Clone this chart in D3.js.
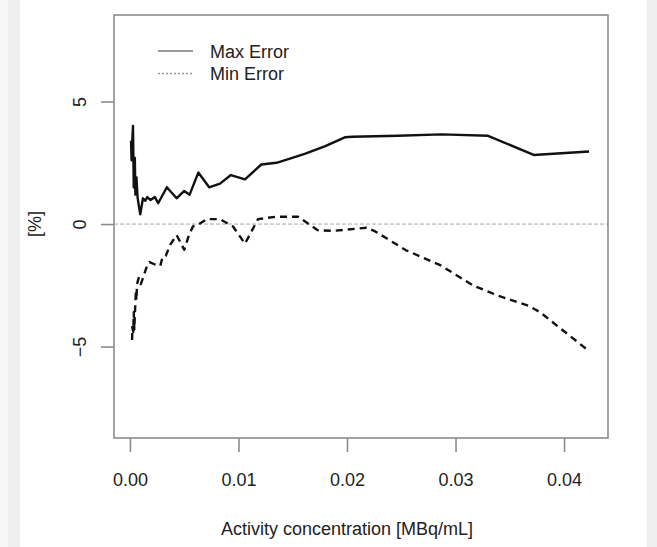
<!DOCTYPE html>
<html>
<head>
<meta charset="utf-8">
<script src="https://cdn.jsdelivr.net/npm/d3@7"></script>
<style>
  body { margin: 0; background: #fff; }
  svg text { font-family: "Liberation Sans", Arial, sans-serif; fill: #222; }
</style>
</head>
<body>
<div id="chart"></div>
<script>
// activity concentration [MBq/mL] and error [%]
const maxX = [0.0001, 0.00015, 0.0002, 0.00028, 0.00035, 0.00045, 0.0005, 0.0006, 0.0007, 0.0008,
  0.00095, 0.0012, 0.0014, 0.0016, 0.0019, 0.0023, 0.0026, 0.0034, 0.0043, 0.005,
  0.0055, 0.0063, 0.0073, 0.0083, 0.0093, 0.0106, 0.0121, 0.0135, 0.0146, 0.0161,
  0.018, 0.0198, 0.0205, 0.0247, 0.0287, 0.0295, 0.033, 0.0372, 0.0423];
const maxErr = [3.4, 2.6, 3.3, 4.0, 1.5, 2.7, 1.2, 1.9, 1.1, 0.8,
  0.4, 1.05, 0.95, 1.1, 0.98, 1.1, 0.85, 1.5, 1.05, 1.35,
  1.2, 2.1, 1.5, 1.65, 2.0, 1.82, 2.43, 2.5, 2.65, 2.86,
  3.18, 3.54, 3.56, 3.6, 3.66, 3.65, 3.6, 2.82, 2.96];

const minX = [0.0002, 0.00022, 0.0003, 0.00035, 0.0004, 0.0005, 0.00055, 0.0006, 0.00065, 0.0008,
  0.001, 0.0012, 0.0015, 0.0018, 0.0023, 0.0028, 0.003, 0.0033, 0.0037, 0.004,
  0.0043, 0.0046, 0.005, 0.0054, 0.0058, 0.0063, 0.0071, 0.0083, 0.0095, 0.0106,
  0.0118, 0.0135, 0.0155, 0.0173, 0.0187, 0.0218, 0.0226, 0.0254, 0.0286, 0.0316,
  0.0338, 0.0368, 0.0378, 0.0422];
const minErr = [-4.73, -4.2, -4.4, -3.6, -4.3, -3.2, -2.7, -3.1, -2.45, -2.2,
  -2.45, -2.2, -1.8, -1.55, -1.65, -1.7, -1.35, -1.3, -0.85, -0.65,
  -0.45, -0.7, -1.05, -0.5, -0.1, -0.02, 0.2, 0.2, -0.1, -0.8,
  0.2, 0.3, 0.3, -0.25, -0.28, -0.15, -0.3, -1.06, -1.68, -2.5,
  -2.9, -3.35, -3.6, -5.15];

const xTicks = [0, 0.01, 0.02, 0.03, 0.04];
const yTicks = [-5, 0, 5];
const legendLabels = ["Max Error", "Min Error"];

const width = 657, height = 547;
const box = {left: 114, right: 608, top: 15, bottom: 438};

const svg = d3.select("#chart").append("svg")
  .attr("width", width)
  .attr("height", height);

// grey strips at the page edges
svg.append("rect").attr("x", 0).attr("y", 0).attr("width", 8).attr("height", height).attr("fill", "#f7f7f7");
svg.append("rect").attr("x", 8).attr("y", 0).attr("width", 12).attr("height", height).attr("fill", "#efefef");
svg.append("rect").attr("x", 647).attr("y", 0).attr("width", 10).attr("height", height).attr("fill", "#efefef");

const x = d3.scaleLinear().domain([-0.00147, 0.04405]).range([box.left, box.right]);
const y = d3.scaleLinear().domain([-8.73, 8.53]).range([box.bottom, box.top]);

// zero reference line
svg.append("line")
  .attr("x1", box.left).attr("x2", box.right)
  .attr("y1", y(0)).attr("y2", y(0))
  .attr("stroke", "#a8a8a8").attr("stroke-width", 1)
  .attr("stroke-dasharray", "4,2");

const line = d3.line().x(d => x(d[0])).y(d => y(d[1]));

svg.append("path")
  .datum(maxX.map((v, i) => [v, maxErr[i]]))
  .attr("d", line)
  .attr("fill", "none").attr("stroke", "#111")
  .attr("stroke-width", 2.4).attr("stroke-linejoin", "round");

svg.append("path")
  .datum(minX.map((v, i) => [v, minErr[i]]))
  .attr("d", line)
  .attr("fill", "none").attr("stroke", "#111")
  .attr("stroke-width", 2.4).attr("stroke-linejoin", "round")
  .attr("stroke-dasharray", "7,5");

// box
svg.append("rect")
  .attr("x", box.left).attr("y", box.top)
  .attr("width", box.right - box.left).attr("height", box.bottom - box.top)
  .attr("fill", "none").attr("stroke", "#8c8c8c").attr("stroke-width", 1.6);

// x axis
const gx = svg.append("g")
  .attr("transform", `translate(0,${box.bottom})`)
  .call(d3.axisBottom(x).tickValues(xTicks).tickFormat(d3.format(".2f")).tickSize(14).tickPadding(21));
gx.select(".domain").remove();
gx.selectAll(".tick line").attr("stroke", "#8c8c8c").attr("stroke-width", 1.6);
gx.selectAll("text").attr("font-size", "18px").attr("fill", "#222");

// y axis, labels turned like R does
const gy = svg.append("g")
  .attr("transform", `translate(${box.left},0)`)
  .call(d3.axisLeft(y).tickValues(yTicks).tickFormat(d3.format("d")).tickSize(13));
gy.select(".domain").remove();
gy.selectAll(".tick line").attr("stroke", "#8c8c8c").attr("stroke-width", 1.6);
gy.selectAll("text")
  .attr("x", null).attr("dy", null)
  .attr("text-anchor", "middle")
  .attr("transform", "translate(-28,0) rotate(-90)")
  .attr("font-size", "18px").attr("fill", "#222");

// axis titles
svg.append("text")
  .attr("x", 347).attr("y", 535)
  .attr("text-anchor", "middle").attr("font-size", "18px")
  .text("Activity concentration [MBq/mL]");

svg.append("text")
  .attr("transform", `translate(41,${y(0)}) rotate(-90)`)
  .attr("text-anchor", "middle").attr("font-size", "18px")
  .text("[%]");

// legend
const legend = svg.append("g");
legendLabels.forEach((lab, i) => {
  const ly = 51 + i * 22.5;
  legend.append("line")
    .attr("x1", 158).attr("x2", 193).attr("y1", ly).attr("y2", ly)
    .attr("stroke", "#9a9a9a").attr("stroke-width", i === 0 ? 2 : 1.6)
    .attr("stroke-dasharray", i === 0 ? null : "2,2");
  legend.append("text")
    .attr("x", 210).attr("y", ly + 6.5)
    .attr("font-size", "18px")
    .text(lab);
});
</script>
</body>
</html>
